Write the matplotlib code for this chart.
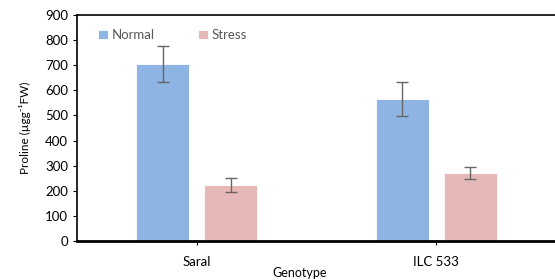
import matplotlib
matplotlib.use("Agg")
import matplotlib.pyplot as plt
import numpy as np

plt.rcParams['font.family'] = ['Lato', 'DejaVu Sans']

genotypes = ["Saral", "ILC 533"]
normal = [705, 564]
normal_err = [70, 68]
stress = [223, 270]
stress_err = [26, 25]

fig = plt.figure(figsize=(5.55, 2.8), dpi=100)
ax = fig.add_axes([77/555, 1-241/280, (556-77)/555, (241-15)/280])

x = np.arange(len(genotypes))
w = 0.22
off = 0.1417
ax.bar(x - off, normal, w, color='#8EB4E3', edgecolor='white', linewidth=0.6,
       yerr=normal_err, error_kw=dict(ecolor='#666666', elinewidth=1, capsize=4, capthick=1), label='Normal')
ax.bar(x + off, stress, w, color='#E6B9B8', edgecolor='white', linewidth=0.6,
       yerr=stress_err, error_kw=dict(ecolor='#666666', elinewidth=1, capsize=4, capthick=1), label='Stress')

ax.set_xlim(-0.5, 1.5)
ax.set_ylim(0, 900)
ax.set_yticks(range(0, 901, 100))
ax.set_xticks(x)
ax.set_xticklabels(genotypes)
ax.tick_params(axis='both', labelsize=9.5, colors='black', length=3, width=0.8)
ax.tick_params(axis='x', length=3, pad=8)
for s in ['left', 'top', 'right']:
    ax.spines[s].set_linewidth(1.2)
ax.spines['bottom'].set_linewidth(2)

ax.set_ylabel('Proline (µgg⁻¹FW)', fontsize=8.5)
ax.yaxis.set_label_coords(-0.097, 0.5)
ax.set_xlabel('Genotype', fontsize=9)
ax.xaxis.set_label_coords(0.465, -0.115)

leg = ax.legend(loc='upper left', bbox_to_anchor=(0.02, 0.99), ncol=2, frameon=False,
                fontsize=9.5, handlelength=0.7, handleheight=0.7, columnspacing=3.3,
                handletextpad=0.3, labelcolor='#595959')

fig.savefig('out.png', dpi=100)
